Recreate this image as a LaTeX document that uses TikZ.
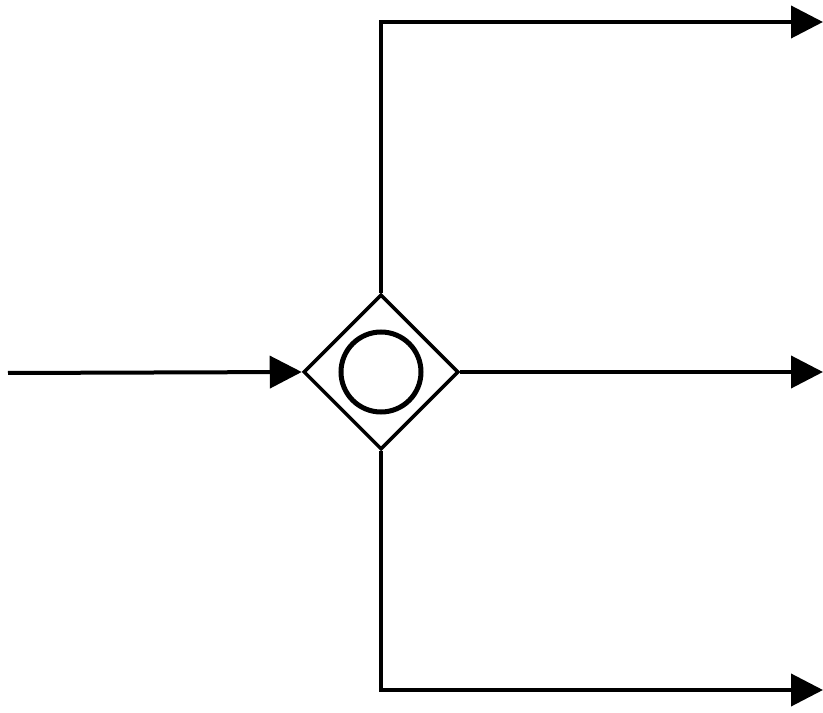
\documentclass[tikz,border=0pt]{standalone}
\usetikzlibrary{arrows.meta,shapes.geometric}
\begin{document}
\begin{tikzpicture}[x=1pt,y=1pt,
  flow/.style={line width=4pt,-{Triangle[length=32pt,width=32pt]}},
  gateway/.style={diamond,draw,line width=3.5pt,minimum width=155pt,minimum height=155pt,inner sep=0pt},
  marker/.style={circle,draw,line width=5pt,minimum size=80pt,inner sep=0pt}]
\useasboundingbox (0,0) rectangle (823,713);
\node[gateway] (g) at (381,341) {};
\node[marker] (m) at (g.center) {};
\coordinate (s) at (8,340);
\coordinate (t) at (823,691);
\coordinate (r) at (823,341);
\coordinate (b) at (823,23);
\draw[flow] (s) -- (g.west);
\draw[flow] (g.north) |- (t);
\draw[flow] (g.east) -- (r);
\draw[flow] (g.south) |- (b);
\end{tikzpicture}
\end{document}
